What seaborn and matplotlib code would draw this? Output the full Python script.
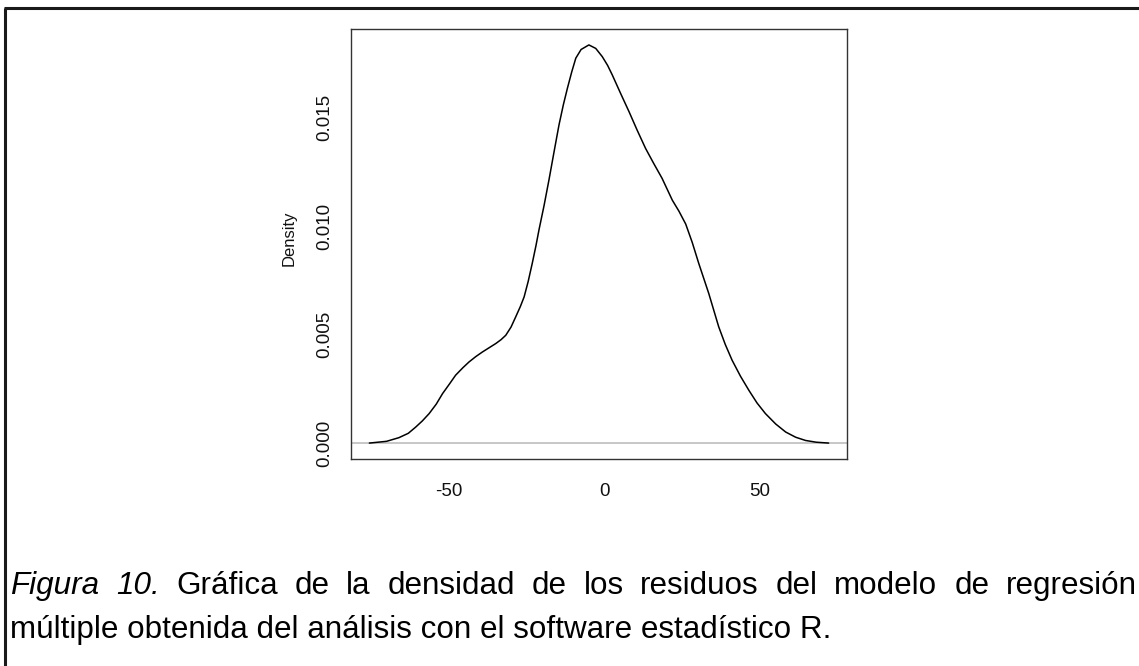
import matplotlib
matplotlib.use("Agg")
import matplotlib.pyplot as plt
from matplotlib.lines import Line2D
import seaborn as sns
import pandas as pd

# Kernel density of the regression residuals (evaluated curve)
residual = [-75.5, -70.0, -66.0, -63.0, -60.6, -58.5, -56.3, -54.0, -52.0, -49.8,
            -47.8, -45.5, -43.5, -41.3, -39.2, -37.0, -34.9, -33.2, -31.7, -30.0,
            -28.5, -27.0, -25.8, -24.5, -23.2, -22.0, -21.0, -19.4, -17.8, -16.2,
            -14.6, -13.2, -11.9, -10.5, -9.2, -7.5, -5.0, -2.8, -0.7, 1.0,
            2.5, 5.2, 7.9, 10.5, 13.2, 15.8, 18.5, 21.8, 23.9, 26.1,
            28.2, 30.3, 33.5, 36.7, 38.8, 41.0, 43.7, 46.4, 49.0, 51.7,
            55.0, 58.2, 61.4, 64.6, 68.0, 72.0]
density = [0.00000, 0.00008, 0.00025, 0.00045, 0.00074, 0.00102, 0.00136, 0.00180, 0.00228, 0.00272,
           0.00313, 0.00347, 0.00374, 0.00399, 0.00420, 0.00440, 0.00459, 0.00477, 0.00497, 0.00535,
           0.00582, 0.00630, 0.00674, 0.00745, 0.00828, 0.00910, 0.00985, 0.01095, 0.01215, 0.01342,
           0.01467, 0.01560, 0.01636, 0.01712, 0.01775, 0.01815, 0.01836, 0.01820, 0.01782, 0.01742,
           0.01698, 0.01612, 0.01528, 0.01443, 0.01359, 0.01290, 0.01221, 0.01120, 0.01070, 0.01010,
           0.00925, 0.00828, 0.00690, 0.00536, 0.00455, 0.00382, 0.00308, 0.00243, 0.00185, 0.00136,
           0.00088, 0.00051, 0.00027, 0.00012, 0.00004, 0.00000]

x_ticks = [-50, 0, 50]
y_ticks = [0.000, 0.005, 0.010, 0.015]
y_tick_labels = ["0.000", "0.005", "0.010", "0.015"]
y_label = "Density"

caption_line1 = ["Figura", "10.", "Gráfica", "de", "la", "densidad", "de", "los",
                 "residuos", "del", "modelo", "de", "regresión"]
caption_line2 = "múltiple obtenida del análisis con el software estadístico R."

sns.set_style("white")
plt.rcParams["font.family"] = ["Liberation Sans", "DejaVu Sans"]

W, H = 1139, 666
fig = plt.figure(figsize=(W / 100, H / 100), dpi=100)
fig.patch.set_facecolor("white")

# plot region in pixels: left 351, right 847, top 29, bottom 459
ax = fig.add_axes([351 / W, 1 - 459 / H, (847 - 351) / W, (459 - 29) / H])

df = pd.DataFrame({"residual": residual, "density": density})
ax.axhline(0, color="#bebebe", lw=1.2, zorder=1)
sns.lineplot(data=df, x="residual", y="density", ax=ax, color="black",
             lw=1.1, sort=False, zorder=2)

ymax = max(density)
xr = max(residual) - min(residual)
ax.set_xlim(min(residual) - 0.04 * xr, max(residual) + 0.04 * xr)
ax.set_ylim(-0.04 * ymax, ymax * 1.04)

ax.set_xticks(x_ticks)
ax.set_xticklabels([str(t) for t in x_ticks])
ax.set_yticks(y_ticks)
ax.set_yticklabels(y_tick_labels, rotation=90, va="center")
ax.tick_params(axis="both", direction="out", length=7.2, width=1,
               color="#333333", labelsize=13.5, labelcolor="#111111")
ax.tick_params(axis="x", pad=10)
ax.tick_params(axis="y", pad=5.5)
ax.set_xlabel("")
ax.set_ylabel(y_label, fontsize=12, color="#111111")
ax.yaxis.set_label_coords(-0.125, 0.514)
ax.yaxis.label.set_va("center")

for s in ax.spines.values():
    s.set_visible(True)
    s.set_color("#333333")
    s.set_linewidth(1)

# frame lines of the figure box
fig.add_artist(Line2D([5 / W, 5 / W], [0, 1 - 8 / H], transform=fig.transFigure,
                      color="#1a1a1a", lw=2.2, solid_capstyle="butt"))
fig.add_artist(Line2D([4 / W, 1], [1 - 8 / H, 1 - 8 / H], transform=fig.transFigure,
                      color="#1a1a1a", lw=2.2, solid_capstyle="butt"))

# caption: first line justified between the left margin and the right edge
cap_size = 22.6
left_px, right_px = 10, 1137
y1 = 1 - 594 / H
renderer = fig.canvas.get_renderer()
words = []
for i, w in enumerate(caption_line1):
    t = fig.text(0, y1, w, fontsize=cap_size,
                 style="italic" if i < 2 else "normal",
                 ha="left", va="baseline", color="black")
    words.append(t)
widths = [t.get_window_extent(renderer).width for t in words]
gap = (right_px - left_px - sum(widths)) / (len(words) - 1)
x = left_px
for t, wdt in zip(words, widths):
    t.set_x(x / W)
    x += wdt + gap

fig.text(left_px / W, 1 - 638 / H, caption_line2, fontsize=cap_size,
         ha="left", va="baseline", color="black")

fig.savefig("out.png", dpi=100, facecolor="white")
